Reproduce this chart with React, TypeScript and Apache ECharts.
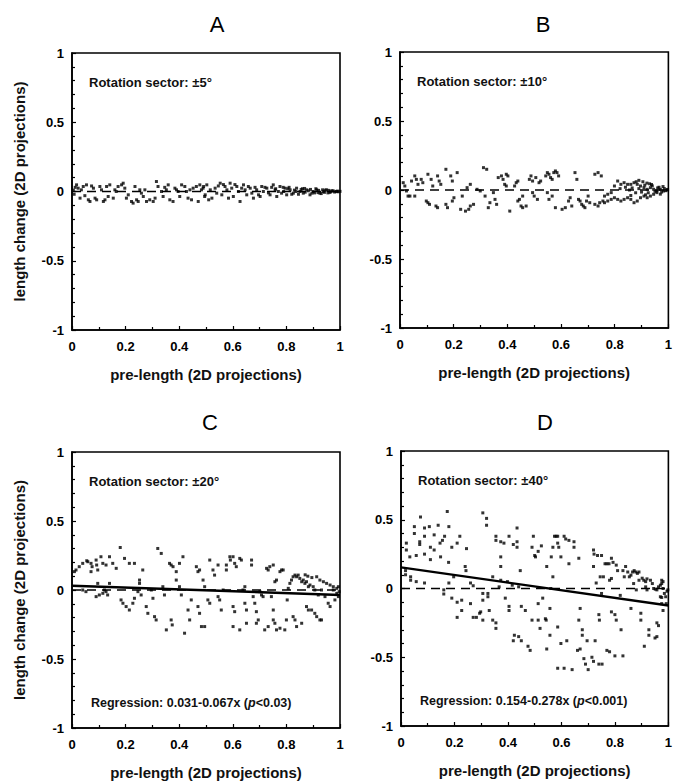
import React, { useEffect, useRef } from "react";
import * as echarts from "echarts";

const panelLetters = ["A", "B", "C", "D"];
const sectorLabels = ["Rotation sector: ±5°", "Rotation sector: ±10°", "Rotation sector: ±20°", "Rotation sector: ±40°"];
const xTickLabels = ["0", "0.2", "0.4", "0.6", "0.8", "1"];
const yTickLabels = ["-1", "-0.5", "0", "0.5", "1"];
const xAxisName = "pre-length (2D projections)";
const yAxisName = "length change (2D projections)";

// regression coefficients [intercept, slope] for panels C and D
const regressionC = [0.031, -0.067];
const regressionD = [0.154, -0.278];
const regressionTextC = ["Regression: 0.031-0.067x (", "p", "<0.03)"];
const regressionTextD = ["Regression: 0.154-0.278x (", "p", "<0.001)"];

const pointsA: number[][] = [
  [0.005, 0.01], [0.008, -0.02], [0.012, 0.03], [0.017, 0.048], [0.023, 0.024], [0.03, -0.048], [0.042, 0.036], [0.054, 0.048],
  [0.061, -0.06], [0.067, -0.072], [0.073, 0.04], [0.086, -0.048], [0.092, -0.06], [0.104, 0.036], [0.11, 0.012], [0.117, -0.072],
  [0.123, -0.06], [0.129, 0.036], [0.141, 0.048], [0.154, -0.048], [0.16, 0.012], [0.172, 0.036], [0.185, 0.048], [0.191, 0.06],
  [0.197, 0.024], [0.203, -0.048], [0.21, -0.024], [0.222, -0.072], [0.228, -0.084], [0.241, -0.06], [0.247, -0.072], [0.253, 0.012],
  [0.259, -0.012], [0.266, -0.036], [0.278, -0.072], [0.29, -0.06], [0.303, -0.072], [0.315, 0.072], [0.321, 0.036], [0.334, 0],
  [0.34, -0.036], [0.352, 0.012], [0.359, 0.048], [0.365, -0.06], [0.377, -0.072], [0.384, 0.024], [0.39, 0.012], [0.396, 0],
  [0.409, 0.048], [0.421, 0.036], [0.427, 0], [0.433, -0.048], [0.446, -0.06], [0.452, 0.024], [0.464, 0.036], [0.471, -0.072],
  [0.483, 0.012], [0.489, 0.024], [0.495, -0.036], [0.491, 0.036], [0.497, -0.024], [0.503, 0.048], [0.516, 0.012], [0.522, -0.048],
  [0.534, 0.024], [0.54, -0.012], [0.553, 0.06], [0.559, -0.024], [0.571, 0.036], [0.578, 0.012], [0.59, 0.06], [0.596, 0.024],
  [0.602, -0.036], [0.615, 0.036], [0.621, 0], [0.627, -0.072], [0.64, 0.048], [0.646, 0.012], [0.652, -0.024], [0.665, 0.024],
  [0.671, -0.012], [0.677, -0.048], [0.689, 0.012], [0.696, -0.024], [0.708, 0.036], [0.714, 0], [0.727, 0.024], [0.739, -0.024],
  [0.751, 0.048], [0.758, 0.012], [0.764, -0.036], [0.776, 0.036], [0.782, -0.012], [0.795, 0.024], [0.801, -0.024], [0.814, 0.012],
  [0.826, -0.012], [0.838, 0.024], [0.851, 0], [0.863, -0.012], [0.876, 0.012], [0.888, -0.024], [0.9, 0], [0.913, 0.012],
  [0.925, -0.012], [0.938, 0], [0.95, 0.012], [0.962, -0.006], [0.975, 0.004], [0.987, 0], [1.0, 0.001], [0.76, 0.02],
  [0.79, 0.0], [0.81, 0.03], [0.83, 0.01], [0.845, -0.02], [0.86, 0.02], [0.87, -0.005], [0.89, 0.015], [0.905, -0.01],
  [0.92, 0.008], [0.93, -0.015], [0.945, 0.01], [0.955, -0.01], [0.97, 0.006], [0.98, -0.004], [0.99, 0.003],
  [0.035, 0.012], [0.048, -0.03], [0.08, 0.024], [0.135, -0.036], [0.165, 0.0], [0.235, 0.036], [0.272, 0.012], [0.31, -0.048],
  [0.346, 0.03], [0.402, -0.036], [0.44, 0.012], [0.477, 0.048], [0.51, -0.06], [0.546, 0.04], [0.565, 0.05], [0.584, -0.048],
  [0.608, 0.05], [0.633, 0.024], [0.658, 0.036], [0.683, 0.03], [0.702, -0.036], [0.72, 0.03], [0.733, -0.01], [0.745, 0.03],
  [0.77, 0.0], [0.788, 0.03], [0.805, 0.02], [0.82, -0.02], [0.835, 0.0], [0.855, 0.015], [0.868, 0.022], [0.882, 0.005],
  [0.895, -0.012], [0.91, 0.02], [0.918, -0.008], [0.935, 0.012], [0.942, -0.006], [0.958, 0.008], [0.965, -0.002], [0.993, -0.002],
];

const pointsB: number[][] = [
  [0.012, 0.053], [0.018, 0.029], [0.024, -0.007], [0.03, -0.044], [0.043, 0.065], [0.055, 0.102], [0.061, 0.077], [0.067, 0.041],
  [0.037, -0.044], [0.055, -0.044], [0.079, 0.077], [0.085, 0.053], [0.098, -0.08], [0.104, -0.092], [0.11, -0.104], [0.104, 0.114],
  [0.116, 0.077], [0.122, 0.029], [0.134, -0.116], [0.14, -0.128], [0.14, 0.102], [0.146, 0.065], [0.152, 0.041], [0.171, 0.15],
  [0.171, -0.104], [0.177, -0.128], [0.189, 0.102], [0.195, 0.065], [0.195, -0.08], [0.201, -0.056], [0.213, 0.126], [0.226, -0.14],
  [0.232, -0.044], [0.244, -0.153], [0.256, -0.14], [0.262, -0.116], [0.274, -0.104], [0.25, 0.017], [0.262, 0.041], [0.287, 0.005],
  [0.299, -0.007], [0.311, 0.162], [0.323, 0.15], [0.317, -0.044], [0.329, -0.128], [0.335, -0.092], [0.348, -0.019], [0.354, -0.068],
  [0.36, -0.104], [0.366, 0.09], [0.378, 0.102], [0.384, 0.077], [0.396, 0.114], [0.402, 0.102], [0.39, 0.041], [0.396, 0.029],
  [0.409, -0.153], [0.427, 0.029], [0.433, 0.053], [0.439, 0.065], [0.439, -0.08], [0.451, -0.116], [0.457, -0.128], [0.47, -0.116],
  [0.445, -0.068], [0.457, -0.044], [0.482, 0.077], [0.488, 0.102], [0.494, 0.065], [0.506, 0.09], [0.518, 0.053], [0.524, 0.065],
  [0.494, -0.019], [0.5, -0.044], [0.512, -0.068], [0.543, 0.102], [0.549, 0.126], [0.555, 0.114], [0.561, 0.09], [0.567, 0.077],
  [0.573, 0.126], [0.579, 0.138], [0.585, 0.126], [0.591, 0.102], [0.549, -0.019], [0.555, -0.068], [0.567, -0.044], [0.579, -0.128],
  [0.604, -0.14], [0.616, -0.128], [0.628, -0.08], [0.634, -0.056], [0.64, -0.116], [0.652, 0.126], [0.659, 0.077], [0.665, -0.068],
  [0.671, -0.08], [0.677, -0.104], [0.683, -0.116], [0.689, -0.128], [0.695, -0.08], [0.701, -0.044], [0.707, -0.092], [0.726, -0.104],
  [0.738, -0.116], [0.744, -0.092], [0.756, -0.08], [0.726, 0.114], [0.738, 0.126], [0.75, 0.102], [0.762, -0.044], [0.774, -0.031],
  [0.787, -0.019], [0.799, 0.029], [0.811, 0.065], [0.823, 0.041], [0.835, 0.053], [0.848, 0.041], [0.86, 0.041], [0.872, 0.053],
  [0.884, 0.041], [0.896, 0.029], [0.909, 0.017], [0.921, 0.005], [0.933, 0.017], [0.945, 0.005], [0.957, -0.007], [0.97, 0.005],
  [0.982, -0.007], [0.994, 0.0], [0.799, -0.056], [0.811, -0.068], [0.823, -0.08], [0.835, -0.068], [0.848, -0.056], [0.86, -0.068],
  [0.872, -0.092], [0.884, -0.08], [0.896, -0.056], [0.909, -0.044], [0.921, -0.056], [0.933, -0.044], [0.945, -0.031], [0.957, -0.019],
  [0.762, -0.092], [0.774, -0.08], [0.787, -0.068], [0.89, 0.07], [0.905, 0.06], [0.92, 0.05], [0.94, 0.03], [0.965, 0.02],
  [0.82, 0.01], [0.84, 0.02], [0.855, 0.0], [0.865, 0.015], [0.878, -0.02], [0.89, 0.01], [0.9, -0.015], [0.912, 0.035],
  [0.925, -0.02], [0.937, 0.04], [0.95, -0.01], [0.96, 0.015], [0.975, -0.015], [0.985, 0.01], [0.99, -0.005], [0.997, 0.004],
  [0.88, 0.06], [0.93, 0.045], [0.86, -0.04], [0.915, -0.035], [0.97, -0.03], [0.98, 0.025],
];

const pointsC: number[][] = [
  [0.009, 0.133], [0.015, 0.145], [0.027, 0.169], [0.04, 0.193], [0.055, 0.212], [0.059, 0.205], [0.071, 0.193], [0.075, 0.169],
  [0.09, 0.217], [0.092, 0.181], [0.096, 0.145], [0.108, 0.241], [0.115, 0.193], [0.127, 0.181], [0.14, 0.241], [0.152, 0.193],
  [0.165, 0.157], [0.18, 0.308], [0.196, 0.229], [0.214, 0.193], [0.233, 0.193], [0.264, 0.145], [0.071, 0.133], [0.096, 0.048],
  [0.14, 0.048], [0.04, 0], [0.052, -0.012], [0.09, -0.048], [0.102, -0.036], [0.115, -0.024], [0.121, 0], [0.127, -0.012],
  [0.133, -0.036], [0.183, -0.072], [0.19, -0.096], [0.202, -0.12], [0.214, -0.145], [0.227, -0.096], [0.233, -0.06], [0.252, 0.072],
  [0.252, 0.048], [0.246, -0.012], [0.258, -0.036], [0.277, -0.12], [0.283, -0.169], [0.296, 0], [0.302, -0.06], [0.32, 0.301],
  [0.333, 0.265], [0.308, -0.193], [0.314, -0.217], [0.339, 0.024], [0.345, -0.036], [0.352, -0.289], [0.364, 0.193], [0.37, 0.181],
  [0.377, 0.169], [0.37, -0.217], [0.374, -0.253], [0.389, 0.072], [0.389, 0.133], [0.401, 0.193], [0.414, 0.241], [0.401, 0.024],
  [0.408, -0.036], [0.42, -0.313], [0.433, -0.145], [0.439, -0.217], [0.445, -0.072], [0.464, 0.169], [0.47, 0.133], [0.476, 0.145],
  [0.47, -0.12], [0.476, -0.169], [0.483, -0.265], [0.495, -0.265], [0.489, 0.072], [0.495, 0.024], [0.514, 0.217], [0.507, -0.072],
  [0.514, -0.096], [0.526, 0.145], [0.532, 0.108], [0.545, 0.181], [0.545, -0.048], [0.551, -0.072], [0.557, -0.145], [0.564, 0],
  [0.576, 0.181], [0.576, 0.145], [0.589, 0.241], [0.591, 0.217], [0.601, 0.241], [0.607, 0.193], [0.613, 0.169], [0.601, -0.12],
  [0.607, -0.157], [0.601, -0.265], [0.626, 0.229], [0.632, 0.217], [0.626, -0.289], [0.638, 0], [0.645, 0.024], [0.645, -0.096],
  [0.651, -0.145], [0.651, -0.241], [0.67, 0.217], [0.67, 0.181], [0.676, -0.048], [0.682, -0.096], [0.688, -0.157], [0.688, -0.241],
  [0.695, -0.217], [0.701, -0.012], [0.707, -0.036], [0.713, -0.048], [0.719, -0.289], [0.732, -0.265], [0.726, 0.157], [0.732, 0.145],
  [0.738, 0.169], [0.751, 0.181], [0.744, -0.048], [0.751, -0.145], [0.751, -0.217], [0.757, -0.241], [0.757, 0.06], [0.763, 0.072],
  [0.763, -0.289], [0.776, -0.277], [0.776, 0.133], [0.782, 0.145], [0.788, 0.145], [0.794, -0.289], [0.8, -0.217], [0.803, -0.072],
  [0.807, 0.012], [0.813, 0.048], [0.819, 0.072], [0.825, 0.096], [0.832, 0.108], [0.838, 0.096], [0.844, 0.108], [0.85, 0.084],
  [0.857, 0.06], [0.863, 0.072], [0.869, 0.048], [0.875, 0.06], [0.882, 0.024], [0.888, 0.036], [0.825, -0.193], [0.832, -0.217],
  [0.838, -0.265], [0.857, -0.241], [0.875, -0.12], [0.882, -0.145], [0.894, -0.145], [0.906, -0.169], [0.913, -0.193], [0.925, -0.217],
  [0.931, -0.217], [0.9, 0.024], [0.906, 0], [0.919, -0.036], [0.931, 0], [0.944, -0.048], [0.956, -0.096], [0.963, -0.12],
  [0.975, 0], [0.981, -0.072], [0.988, -0.024], [0.994, -0.048], [0.913, 0.096], [0.925, 0.072], [0.938, 0.06], [0.95, 0.048],
  [0.963, 0.036], [0.975, 0.024], [0.988, 0.012], [0.994, 0.024], [0.997, -0.012], [0.87, 0.11], [0.88, 0.1], [0.895, 0.09],
];

const pointsD: number[][] = [
  [0.05, 0.45], [0.05, 0.4], [0.073, 0.52], [0.07, 0.34], [0.07, 0.32], [0.088, 0.44], [0.088, 0.38], [0.106, 0.45],
  [0.124, 0.39], [0.139, 0.46], [0.146, 0.33], [0.155, 0.35], [0.173, 0.56], [0.179, 0.45], [0.163, 0.38], [0.11, 0.3],
  [0.124, 0.28], [0.057, 0.24], [0.088, 0.25], [0.02, 0.33], [0.02, 0.28], [0.033, 0.23], [0.017, 0.13], [0.017, 0.1],
  [0.036, 0.085], [0.036, 0.06], [0.057, 0.05], [0.088, 0.04], [0.11, 0.21], [0.148, 0.23], [0.178, 0.19], [0.19, 0.3],
  [0.21, 0.33], [0.22, 0.38], [0.245, 0.29], [0.24, 0.16], [0.243, 0.13], [0.26, 0.04], [0.27, 0.02], [0.197, 0.085],
  [0.179, 0.04], [0.16, -0.01], [0.16, -0.04], [0.19, -0.07], [0.21, -0.1], [0.227, -0.085], [0.21, -0.21], [0.227, -0.16],
  [0.26, -0.11], [0.27, -0.21], [0.282, -0.21], [0.294, -0.18], [0.298, -0.17], [0.306, -0.085], [0.306, -0.036], [0.306, -0.23],
  [0.325, -0.036], [0.325, -0.06], [0.33, -0.16], [0.343, -0.23], [0.355, -0.25], [0.355, -0.29], [0.306, 0.55], [0.32, 0.51],
  [0.32, 0.46], [0.355, 0.38], [0.355, 0.35], [0.373, 0.34], [0.385, 0.33], [0.404, 0.38], [0.42, 0.32], [0.434, 0.44],
  [0.434, 0.34], [0.434, 0.3], [0.373, 0.23], [0.373, 0.16], [0.343, 0.085], [0.373, 0.06], [0.398, 0.05], [0.416, 0.024],
  [0.44, 0.012], [0.446, 0.13], [0.367, 0.012], [0.39, -0.07], [0.404, -0.13], [0.404, -0.16], [0.42, -0.38], [0.424, -0.34],
  [0.44, -0.35], [0.45, -0.13], [0.465, -0.16], [0.45, -0.38], [0.475, -0.42], [0.483, -0.45], [0.49, -0.23], [0.495, 0.38],
  [0.49, 0.3], [0.5, 0.24], [0.503, 0.23], [0.513, 0.27], [0.513, -0.23], [0.513, -0.11], [0.52, -0.29], [0.525, 0.31],
  [0.53, -0.07], [0.54, -0.22], [0.543, -0.23], [0.545, -0.44], [0.545, 0.16], [0.557, -0.34], [0.557, -0.145], [0.562, 0.23],
  [0.568, 0.3], [0.574, 0.38], [0.58, 0.38], [0.586, 0.38], [0.586, 0.33], [0.59, 0.3], [0.56, 0.0], [0.568, 0.085],
  [0.586, -0.28], [0.586, -0.58], [0.61, -0.58], [0.64, -0.59], [0.598, -0.4], [0.598, 0.23], [0.61, 0.38], [0.616, 0.36],
  [0.628, 0.35], [0.628, 0.18], [0.62, -0.38], [0.647, 0.34], [0.647, 0.3], [0.66, -0.45], [0.665, 0.22], [0.665, -0.23],
  [0.67, -0.145], [0.67, -0.44], [0.678, -0.3], [0.678, -0.34], [0.684, -0.51], [0.69, -0.55], [0.696, -0.38], [0.7, -0.59],
  [0.714, -0.5], [0.72, -0.53], [0.72, 0.16], [0.72, 0.28], [0.722, 0.25], [0.726, -0.38], [0.73, 0.04], [0.735, 0.24],
  [0.75, 0.24], [0.745, 0.085], [0.75, -0.036], [0.74, -0.19], [0.742, -0.23], [0.74, -0.55], [0.752, -0.55], [0.757, 0.085],
  [0.763, 0.18], [0.77, 0.18], [0.778, 0.18], [0.77, -0.45], [0.78, -0.46], [0.787, 0.22], [0.793, 0.19], [0.78, 0.06],
  [0.787, 0.073], [0.787, -0.17], [0.8, -0.49], [0.8, -0.19], [0.805, -0.23], [0.805, 0.17], [0.81, 0.13], [0.82, -0.05],
  [0.823, -0.3], [0.83, -0.49], [0.83, 0.13], [0.835, 0.085], [0.84, 0.16], [0.848, 0.12], [0.854, 0.085], [0.86, 0.097],
  [0.86, -0.145], [0.866, 0.12], [0.872, 0.13], [0.878, 0.12], [0.884, 0.11], [0.89, 0.12], [0.87, 0.036], [0.88, -0.01],
  [0.897, -0.18], [0.897, -0.23], [0.89, 0.06], [0.902, 0.075], [0.908, 0.06], [0.915, 0.05], [0.92, 0.07], [0.91, -0.42],
  [0.915, 0.012], [0.92, -0.01], [0.927, -0.3], [0.927, -0.34], [0.933, 0.06], [0.94, 0.036], [0.945, 0.0], [0.951, -0.005],
  [0.957, -0.01], [0.95, -0.36], [0.957, -0.35], [0.957, -0.25], [0.963, -0.27], [0.963, 0.012], [0.97, 0.024], [0.975, 0.036],
  [0.98, 0.0], [0.985, -0.036], [0.975, -0.11], [0.98, -0.16], [0.97, -0.06], [0.975, -0.065], [0.99, -0.06], [0.992, -0.11],
  [0.995, -0.02], [0.998, -0.01], [0.98, 0.05], [0.975, 0.06],
];

const FONT = "'Liberation Sans', Arial, Helvetica, sans-serif";

export default function App() {
  const ref = useRef<HTMLDivElement>(null);

  useEffect(() => {
    if (!ref.current) return;
    const chart = echarts.init(ref.current, undefined, { renderer: "svg" });

    const grids = [
      { left: 72, top: 53, width: 268, height: 277 },
      { left: 400, top: 52, width: 273, height: 276 },
      { left: 72, top: 452, width: 268, height: 276 },
      { left: 401, top: 451, width: 272, height: 275 },
    ];
    const allPoints = [pointsA, pointsB, pointsC, pointsD];
    const titlePos = [
      [217, 13],
      [543, 13],
      [210, 411],
      [545, 411],
    ];

    const xAxes = grids.map((_, i) => ({
      type: "value",
      gridIndex: i,
      min: 0,
      max: 1,
      interval: 0.2,
      name: xAxisName,
      nameLocation: "middle",
      nameGap: 37,
      nameTextStyle: { fontFamily: FONT, fontSize: 15, fontWeight: "bold", color: "#111" },
      axisLine: { onZero: false, lineStyle: { color: "#000", width: 1.6 } },
      axisTick: { inside: true, length: 4, lineStyle: { color: "#000", width: 1.2 } },
      minorTick: { show: true, splitNumber: 2, length: 3, lineStyle: { color: "#000", width: 1.2 } },
      splitLine: { show: false },
      axisLabel: {
        fontFamily: FONT,
        fontSize: 13,
        fontWeight: "bold",
        color: "#000",
        margin: 10,
        formatter: (v: number) => xTickLabels[Math.round(v / 0.2)] ?? String(v),
      },
    }));

    const yAxes = grids.map((_, i) => ({
      type: "value",
      gridIndex: i,
      min: -1,
      max: 1,
      interval: 0.5,
      name: i % 2 === 0 ? yAxisName : "",
      nameLocation: "middle",
      nameGap: 45,
      nameTextStyle: { fontFamily: FONT, fontSize: 15, fontWeight: "bold", color: "#111" },
      axisLine: { onZero: false, lineStyle: { color: "#000", width: 1.6 } },
      axisTick: { inside: true, length: 4, lineStyle: { color: "#000", width: 1.2 } },
      minorTick: { show: true, splitNumber: 5, length: 3, lineStyle: { color: "#000", width: 1.2 } },
      splitLine: { show: false },
      axisLabel: {
        fontFamily: FONT,
        fontSize: 13,
        fontWeight: "bold",
        color: "#000",
        margin: 8,
        formatter: (v: number) => yTickLabels[Math.round((v + 1) / 0.5)] ?? String(v),
      },
    }));

    const series: any[] = [];
    allPoints.forEach((pts, i) => {
      series.push({
        type: "line",
        xAxisIndex: i,
        yAxisIndex: i,
        data: [
          [0, 0],
          [1, 0],
        ],
        symbol: "none",
        lineStyle: { color: "#000", width: 1.6, type: [9, 6] },
        z: 3,
      });
      series.push({
        type: "scatter",
        xAxisIndex: i,
        yAxisIndex: i,
        data: pts,
        symbol: "rect",
        symbolSize: 3,
        itemStyle: { color: "#000" },
        z: 4,
      });
    });
    [regressionC, regressionD].forEach((coef, k) => {
      const idx = k + 2;
      series.push({
        type: "line",
        xAxisIndex: idx,
        yAxisIndex: idx,
        data: [
          [0, coef[0]],
          [1, coef[0] + coef[1]],
        ],
        symbol: "none",
        lineStyle: { color: "#000", width: 2.4 },
        z: 5,
      });
    });

    const graphic: any[] = [];
    panelLetters.forEach((L, i) => {
      graphic.push({
        type: "text",
        x: titlePos[i][0],
        y: titlePos[i][1],
        style: { text: L, font: `22px ${FONT}`, fill: "#000", textAlign: "center", textVerticalAlign: "top" },
      });
      const g = grids[i];
      graphic.push({
        type: "text",
        x: g.left + 17,
        y: g.top + 29,
        style: { text: sectorLabels[i], font: `bold 13px ${FONT}`, fill: "#111", textVerticalAlign: "middle" },
      });
    });
    [regressionTextC, regressionTextD].forEach((parts, k) => {
      const g = grids[k + 2];
      graphic.push({
        type: "text",
        x: g.left + 19,
        y: g.top + g.height - 25,
        style: {
          text: `{n|${parts[0]}}{i|${parts[1]}}{n|${parts[2]}}`,
          rich: {
            n: { fontFamily: FONT, fontSize: 12.5, fontWeight: "bold", fill: "#111", color: "#111" },
            i: { fontFamily: FONT, fontSize: 12.5, fontWeight: "bold", fontStyle: "italic", fill: "#111", color: "#111" },
          },
          textVerticalAlign: "middle",
        },
      });
    });

    chart.setOption({
      animation: false,
      backgroundColor: "#fff",
      grid: grids.map((g) => ({
        ...g,
        show: true,
        borderColor: "#000",
        borderWidth: 1.6,
        backgroundColor: "transparent",
        containLabel: false,
      })),
      xAxis: xAxes,
      yAxis: yAxes,
      series,
      graphic,
    });

    return () => chart.dispose();
  }, []);

  return (
    <div
      ref={ref}
      style={{ position: "absolute", left: 0, top: 0, width: 675, height: 781, background: "#fff" }}
    />
  );
}
